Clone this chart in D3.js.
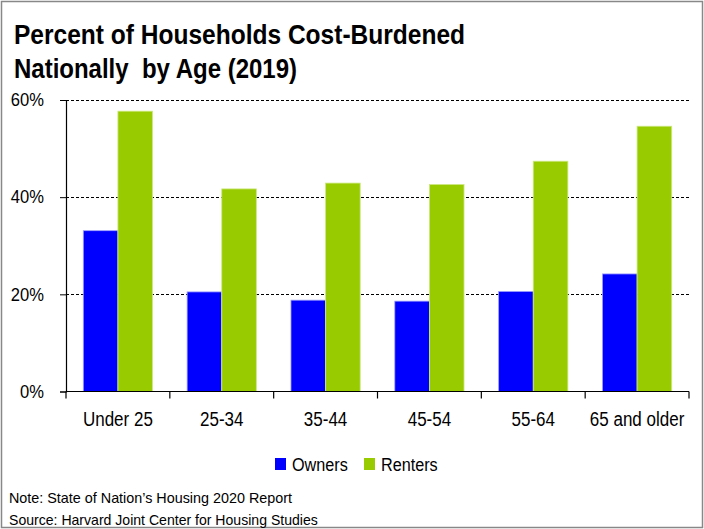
<!DOCTYPE html>
<html>
<head>
<meta charset="utf-8">
<script src="https://cdn.jsdelivr.net/npm/d3@7"></script>
<style>
  body { margin: 0; background: #fff; }
  svg text { font-family: "Liberation Sans", Arial, sans-serif; white-space: pre; }
</style>
</head>
<body>
<svg id="chart" width="704" height="529"></svg>
<script>
// data
var ageGroups = ["Under 25", "25-34", "35-44", "45-54", "55-64", "65 and older"];
var seriesNames = ["Owners", "Renters"];
var owners = [33.1, 20.5, 18.8, 18.6, 20.6, 24.2];
var renters = [57.7, 41.7, 42.9, 42.6, 47.4, 54.6];
var yTicks = [0, 20, 40, 60];
var titleLines = ["Percent of Households Cost-Burdened", "Nationally  by Age (2019)"];
var notes = ["Note: State of Nation\u2019s Housing 2020 Report", "Source: Harvard Joint Center for Housing Studies"];

var colors = {Owners: "#0000ff", Renters: "#99cc00"};
var edge = {Owners: "#a0a0ff", Renters: "#cce880"};

var svg = d3.select("#chart");

// frame
svg.append("rect")
  .attr("x", 1.5).attr("y", 1.5)
  .attr("width", 701).attr("height", 526)
  .attr("fill", "none")
  .attr("stroke", "#888")
  .attr("stroke-width", 1.5);

// the reference uses a narrow font, so squeeze the text sideways
function squeeze(sel, k){
  sel.each(function(){
    var w = this.getComputedTextLength();
    d3.select(this).attr("textLength", w * k).attr("lengthAdjust", "spacingAndGlyphs");
  });
}
function fit(sel, w){
  sel.attr("textLength", w).attr("lengthAdjust", "spacingAndGlyphs");
}

// title
var t1 = svg.append("text").attr("x", 14).attr("y", 44)
  .attr("font-size", 27).attr("font-weight", "bold").text(titleLines[0]);
fit(t1, 451);
var t2 = svg.append("text").attr("x", 14).attr("y", 78)
  .attr("font-size", 27).attr("font-weight", "bold").text(titleLines[1]);
fit(t2, 283);

var plot = {x: 66, y: 100, w: 623, h: 291.5};

var xScale = d3.scaleBand()
  .domain(ageGroups)
  .range([plot.x, plot.x + plot.w])
  .paddingInner(0)
  .paddingOuter(0);

var inner = d3.scaleBand()
  .domain(seriesNames)
  .range([0, xScale.bandwidth()])
  .paddingOuter(0.5);

var yScale = d3.scaleLinear()
  .domain([0, 60])
  .range([plot.y + plot.h, plot.y]);

// gridlines
svg.append("g").selectAll("line")
  .data(yTicks.filter(d => d > 0))
  .enter()
  .append("line")
  .attr("x1", plot.x)
  .attr("x2", plot.x + plot.w)
  .attr("y1", d => Math.round(yScale(d)) + 0.5)
  .attr("y2", d => Math.round(yScale(d)) + 0.5)
  .attr("stroke", "#000")
  .attr("stroke-width", 1)
  .attr("stroke-dasharray", "3,2");

// bars
var rows = ageGroups.map(function(g, i){
  return {group: g, vals: [{s: "Owners", v: owners[i]}, {s: "Renters", v: renters[i]}]};
});

var groups = svg.append("g").selectAll("g")
  .data(rows)
  .enter()
  .append("g")
  .attr("transform", d => "translate(" + xScale(d.group) + ",0)");

groups.selectAll("rect")
  .data(d => d.vals)
  .enter()
  .append("rect")
  .attr("x", d => inner(d.s))
  .attr("y", d => yScale(d.v))
  .attr("width", inner.bandwidth())
  .attr("height", d => yScale(0) - yScale(d.v))
  .attr("fill", d => colors[d.s])
  .attr("stroke", d => edge[d.s])
  .attr("stroke-width", 0.8);

// y axis
var yAxis = d3.axisLeft(yScale)
  .tickValues(yTicks)
  .tickSize(6)
  .tickPadding(16)
  .tickFormat(d => d + "%");
var yAxisEl = svg.append("g")
  .attr("transform", "translate(" + plot.x + ",0)")
  .call(yAxis);
yAxisEl.attr("font-family", null).attr("font-size", null);
yAxisEl.selectAll("text").attr("font-size", 18).attr("fill", "#000");
squeeze(yAxisEl.selectAll("text"), 0.92);
yAxisEl.select(".domain").attr("stroke-width", 1.2);

// x axis: ticks sit on the band edges
var xAxisEl = svg.append("g")
  .attr("transform", "translate(0," + (plot.y + plot.h) + ")");
xAxisEl.append("line")
  .attr("x1", plot.x).attr("x2", plot.x + plot.w)
  .attr("stroke", "#000").attr("stroke-width", 1.2);
var edges = ageGroups.map(g => xScale(g)).concat([plot.x + plot.w]);
xAxisEl.selectAll("line.tick")
  .data(edges)
  .enter()
  .append("line")
  .attr("class", "tick")
  .attr("x1", d => d).attr("x2", d => d)
  .attr("y1", 0).attr("y2", 7)
  .attr("stroke", "#000").attr("stroke-width", 1.2);
var xl = xAxisEl.selectAll("text")
  .data(ageGroups)
  .enter()
  .append("text")
  .attr("x", d => xScale(d) + xScale.bandwidth() / 2)
  .attr("y", 34.5)
  .attr("text-anchor", "middle")
  .attr("font-size", 20)
  .text(d => d);
squeeze(xl, 0.85);

// legend
var legend = svg.append("g").attr("id", "legend");
var lx = [275, 364];
seriesNames.forEach(function(s, i){
  legend.append("rect")
    .attr("x", lx[i]).attr("y", 458)
    .attr("width", 11).attr("height", 12)
    .attr("fill", colors[s]);
  var lt = legend.append("text")
    .attr("x", lx[i] + 17).attr("y", 471)
    .attr("font-size", 18)
    .text(s);
  squeeze(lt, 0.9);
});

// notes
notes.forEach(function(n, i){
  var nt = svg.append("text")
    .attr("x", 9).attr("y", 503 + i * 22)
    .attr("font-size", 14.5)
    .text(n);
  squeeze(nt, i === 0 ? 0.99 : 0.97);
});
</script>
</body>
</html>
